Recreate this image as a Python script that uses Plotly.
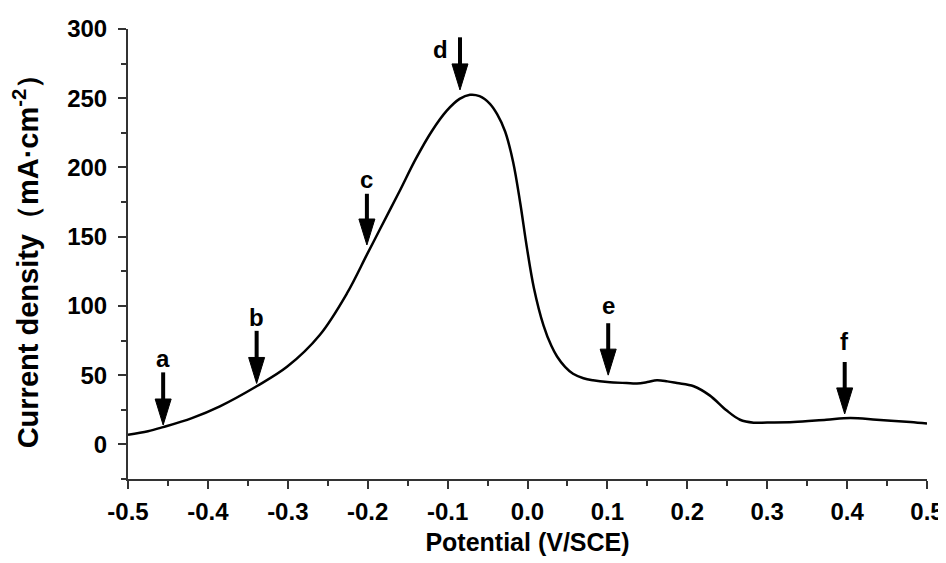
import plotly.graph_objects as go

# ---- data ----
potential = [-0.500, -0.475, -0.456, -0.420, -0.385, -0.339, -0.301, -0.260, -0.226, -0.201,
             -0.185, -0.160, -0.140, -0.120, -0.101, -0.085, -0.072, -0.060, -0.047, -0.038,
             -0.028, -0.018, -0.009, -0.001, 0.008, 0.020, 0.030, 0.037, 0.047, 0.057,
             0.070, 0.082, 0.100, 0.124, 0.137, 0.150, 0.162, 0.175, 0.187, 0.208,
             0.228, 0.249, 0.266, 0.283, 0.300, 0.333, 0.374, 0.404, 0.437, 0.479, 0.500]
current = [7.0, 9.5, 12.5, 19.0, 27.5, 42.0, 56.0, 79.0, 109.0, 137.0,
           155.0, 183.0, 206.0, 226.0, 241.0, 249.5, 252.5, 251.5, 246.0, 238.5,
           226.0, 204.0, 174.0, 143.0, 113.0, 86.0, 71.0, 63.5, 56.0, 51.0,
           47.8, 46.3, 45.0, 44.3, 44.0, 45.0, 46.3, 45.5, 44.3, 42.0,
           35.4, 24.6, 17.8, 15.7, 15.8, 16.1, 17.8, 19.0, 17.8, 16.1, 15.0]

arrow_labels = ['a', 'b', 'c', 'd', 'e', 'f']
arrow_x = [-0.456, -0.339, -0.201, -0.0845, 0.101, 0.397]
arrow_tip = [14, 44, 144, 256, 50, 22]
arrow_tail = [52, 82, 181, 294, 87.5, 59.5]
label_x = [-0.456, -0.339, -0.201, -0.1095, 0.101, 0.397]
label_y = [62, 92, 191, 285, 100, 74.5]

x_tickvals = [-0.5, -0.4, -0.3, -0.2, -0.1, 0.0, 0.1, 0.2, 0.3, 0.4, 0.5]
x_ticktext = ['-0.5', '-0.4', '-0.3', '-0.2', '-0.1', '0.0', '0.1', '0.2', '0.3', '0.4', '0.5']
y_tickvals = [0, 50, 100, 150, 200, 250, 300]

# ---- layout constants (page has an 8px body margin) ----
W, H = 938, 555
M = dict(l=120, r=19, t=21, b=84)
x_range = [-0.5, 0.5]
y_range = [-25, 300]
plot_w = W - M['l'] - M['r']
plot_h = H - M['t'] - M['b']
dx = (x_range[1] - x_range[0]) / plot_w
dy = (y_range[1] - y_range[0]) / plot_h

FONT = "Arial, 'Liberation Sans', sans-serif"
AX = '#333333'

head_len = 26 * dy
head_hw = 8 * dx
shaft_x, shaft_y, head_x, head_y = [], [], [], []
for xa, tip, tail in zip(arrow_x, arrow_tip, arrow_tail):
    shaft_x += [xa, xa, None]
    shaft_y += [tail, tip + head_len * 0.6, None]
    head_x += [xa - head_hw, xa + head_hw, xa, xa - head_hw, None]
    head_y += [tip + head_len, tip + head_len, tip, tip + head_len, None]

fig = go.Figure()
fig.add_trace(go.Scatter(x=potential, y=current, mode='lines',
                         line=dict(color='black', width=2.5, shape='spline', smoothing=1.0),
                         hoverinfo='skip', showlegend=False))
fig.add_trace(go.Scatter(x=shaft_x, y=shaft_y, mode='lines',
                         line=dict(color='black', width=4), hoverinfo='skip', showlegend=False))
fig.add_trace(go.Scatter(x=head_x, y=head_y, mode='lines', fill='toself', fillcolor='black',
                         line=dict(color='black', width=1), hoverinfo='skip', showlegend=False))

for t, lx, ly in zip(arrow_labels, label_x, label_y):
    fig.add_annotation(x=lx, y=ly, text=t, showarrow=False,
                       font=dict(family=FONT, size=24, color='black', weight='bold'))

fig.update_layout(
    width=W, height=H, margin=M,
    paper_bgcolor='white', plot_bgcolor='white',
    font=dict(family=FONT, color='black'),
    xaxis=dict(range=x_range, tickvals=x_tickvals, ticktext=x_ticktext, automargin=False,
               showgrid=False, zeroline=False, showline=True, linecolor=AX, linewidth=2,
               ticks='outside', ticklen=8, tickwidth=2, tickcolor=AX,
               minor=dict(dtick=0.05, tick0=0, ticks='outside', ticklen=5, tickwidth=2, tickcolor=AX),
               tickfont=dict(family=FONT, size=24, color='black', weight='bold'),
               ticklabelstandoff=2,
               title=dict(text='Potential (V/SCE)', standoff=10,
                          font=dict(family=FONT, size=25, color='black', weight='bold'))),
    yaxis=dict(range=y_range, tickvals=y_tickvals, automargin=False,
               showgrid=False, zeroline=False, showline=True, linecolor=AX, linewidth=2,
               ticks='outside', ticklen=8, tickwidth=2, tickcolor=AX,
               minor=dict(dtick=25, tick0=0, ticks='outside', ticklen=5, tickwidth=2, tickcolor=AX),
               tickfont=dict(family=FONT, size=24, color='black', weight='bold'),
               ticklabelstandoff=6,
               title=dict(text='Current density（mA·cm<sup>-2</sup>）', standoff=20,
                          font=dict(family=FONT, size=29, color='black', weight='bold'))),
)

fig.write_html('out.html')
